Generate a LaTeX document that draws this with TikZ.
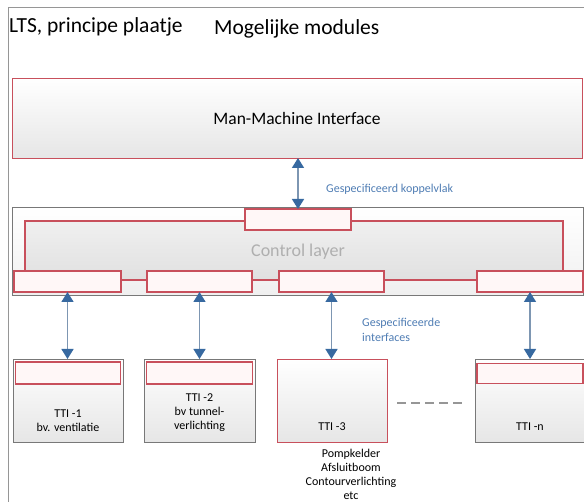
\documentclass[tikz,border=0pt]{standalone}
\usepackage{fontspec}
\setmainfont{Carlito}
\usetikzlibrary{arrows.meta,calc}
\definecolor{redline}{RGB}{200,80,92}
\definecolor{frameline}{RGB}{150,150,150}
\definecolor{boxline}{RGB}{120,120,120}
\definecolor{arrowblue}{RGB}{55,105,160}
\definecolor{shaftblue}{RGB}{125,150,178}
\definecolor{labelblue}{RGB}{79,125,180}
\definecolor{lightfill}{RGB}{230,230,230}
\definecolor{ctrltext}{RGB}{175,175,175}
\tikzset{
  anybox/.style={inner sep=0pt, outer sep=0pt, line width=0.9pt},
  redbox/.style={anybox, draw=redline, top color=white, bottom color=lightfill},
  graybox/.style={anybox, draw=boxline, top color=white, bottom color=lightfill},
  portbox/.style={anybox, draw=redline, line width=1.1pt, fill=white!97!red},
  biarrow/.style={draw=shaftblue, line width=1.4pt,
     {Triangle[width=12pt,length=10pt,color=arrowblue]}-{Triangle[width=12pt,length=10pt,color=arrowblue]}},
  lbl/.style={inner sep=0pt, font=\fontsize{12}{14}\selectfont, align=center},
  bluelbl/.style={inner sep=0pt, font=\fontsize{12}{15}\selectfont, text=labelblue, align=left, anchor=west}
}
\begin{document}
\begin{tikzpicture}[x=1pt,y=-1pt]
\useasboundingbox (0,0) rectangle (584,502);
\fill[white] (0,0) rectangle (584,502);
% frame
\draw[frameline, line width=1pt] (584,8) -- (8,8) -- (8,502);
% titles
\node[inner sep=0pt, anchor=west, font=\fontsize{21.5}{24}\selectfont] (title) at (9,27) {LTS, principe plaatje};
\node[inner sep=0pt, anchor=west, font=\fontsize{21.5}{24}\selectfont] (mods) at (214,29) {Mogelijke modules};
% MMI
\node[redbox, minimum width=570pt, minimum height=80pt, font=\fontsize{17.5}{20}\selectfont] (mmi) at (297,118) {Man-Machine Interface};
% control layer
\node[graybox, top color=white, bottom color=white!94!black, minimum width=571pt, minimum height=88pt] (ctrl) at (297.5,251) {};
\node[anybox, draw=redline, line width=1.1pt, top color=white!94!black, bottom color=white!88!black, minimum width=538pt, minimum height=59pt] (inner) at (294,250.5) {};
\node[inner sep=0pt, text=ctrltext, font=\fontsize{18}{20}\selectfont] (ctrltxt) at (298,252) {Control layer};
\node[portbox, minimum width=106pt, minimum height=21pt] (tb) at (298,219.5) {};
\node[portbox, minimum width=107pt, minimum height=21pt] (b1) at (67.5,281.5) {};
\node[portbox, minimum width=105pt, minimum height=21pt] (b2) at (199.5,281.5) {};
\node[portbox, minimum width=105pt, minimum height=21pt] (b3) at (331.5,281.5) {};
\node[portbox, minimum width=106pt, minimum height=21pt] (b4) at (530,281.5) {};
% TTI boxes
\node[graybox, minimum width=110pt, minimum height=83pt] (t1) at (68,400.5) {};
\node[graybox, minimum width=111pt, minimum height=83pt] (t2) at (199.5,400.5) {};
\node[redbox, minimum width=110pt, minimum height=83pt] (t3) at (332,400.5) {};
\node[graybox, minimum width=110pt, minimum height=83pt] (tn) at (530,400.5) {};
\node[portbox, minimum width=105pt, minimum height=22pt] (p1) at (68,373) {};
\node[portbox, minimum width=106pt, minimum height=22pt] (p2) at (199.5,373) {};
\node[portbox, minimum width=106pt, minimum height=20pt] (pn) at (530,373.5) {};
% TTI labels
\node[lbl] (l1) at (68,420.5) {TTI -1\\bv. ventilatie};
\node[lbl] (l2) at (199.5,413) {TTI -2\\bv tunnel-\\verlichting};
\node[lbl] (l3) at (332,427) {TTI -3};
\node[lbl] (ln) at (530,427) {TTI -n};
\node[lbl, anchor=north] (l3b) at (351,449) {Pompkelder\\Afsluitboom\\Contourverlichting\\etc};
% arrows
\draw[biarrow] (mmi.south -| tb.north) -- (tb.north);
\draw[biarrow] (b1.south) -- (t1.north -| b1.south);
\draw[biarrow] (b2.south) -- (t2.north -| b2.south);
\draw[biarrow] (b3.south) -- (t3.north -| b3.south);
\draw[biarrow] (b4.south) -- (tn.north -| b4.south);
% blue labels
\node[bluelbl] (k1) at (326,189) {Gespecificeerd koppelvlak};
\node[bluelbl] (k2) at (362,330) {Gespecificeerde\\interfaces};
% dashes
\draw[frameline, line width=1.2pt, dash pattern=on 9pt off 5pt, shorten <=10pt, shorten >=12pt] (t3.east |- 0,403) -- (tn.west |- 0,403);
\end{tikzpicture}
\end{document}
